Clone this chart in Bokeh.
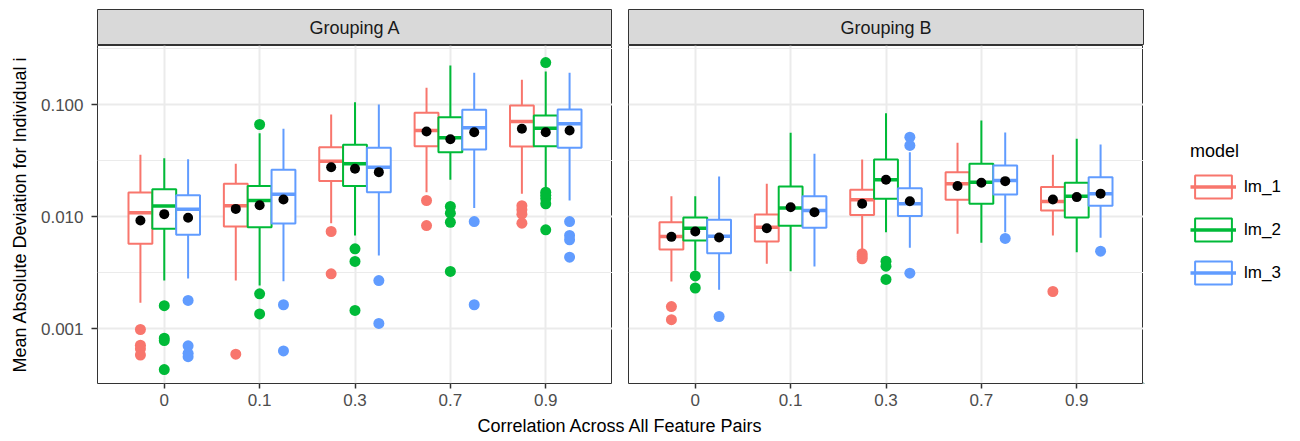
from bokeh.plotting import figure
from bokeh.layouts import column, row
from bokeh.models import (ColumnDataSource, FactorRange, Range1d, FixedTicker,
                          PrintfTickFormatter, Legend, LegendItem)
from bokeh.transform import dodge
from bokeh.core.properties import value
from bokeh.embed import file_html
from bokeh.resources import INLINE

# ---------------- data ----------------
corr_levels = ["0", "0.1", "0.3", "0.7", "0.9"]
models = ["lm_1", "lm_2", "lm_3"]
model_colors = ["#F8766D", "#00BA38", "#619CFF"]
groupings = ["Grouping A", "Grouping B"]
y_ticks = [0.001, 0.01, 0.1]
y_minor_ticks = [0.000316, 0.00316, 0.0316, 0.316]

# rows = correlation level, columns = lm_1, lm_2, lm_3
A_lower = [[0.00170, 0.00268, 0.00279], [0.00268, 0.00242, 0.00264], [0.00871, 0.00677, 0.00449],
           [0.0165, 0.0213, 0.0119], [0.0160, 0.0183, 0.0139]]
A_q1 = [[0.00570, 0.00776, 0.00687], [0.00814, 0.00803, 0.00866], [0.0208, 0.0187, 0.0165],
        [0.0425, 0.0375, 0.0397], [0.0422, 0.0425, 0.0411]]
A_median = [[0.0108, 0.0124, 0.0116], [0.0125, 0.0139, 0.0158], [0.0312, 0.0296, 0.0275],
            [0.0586, 0.0505, 0.0619], [0.0705, 0.0614, 0.0673]]
A_q3 = [[0.0164, 0.0175, 0.0155], [0.0196, 0.0187, 0.0261], [0.0416, 0.0437, 0.0411],
        [0.0843, 0.0770, 0.0897], [0.0980, 0.0798, 0.0902]]
A_upper = [[0.0356, 0.0332, 0.0325], [0.0296, 0.0555, 0.0607], [0.0814, 0.105, 0.0998],
           [0.141, 0.223, 0.192], [0.166, 0.197, 0.192]]
A_mean = [[0.00921, 0.0105, 0.00974], [0.0117, 0.0126, 0.0142], [0.0275, 0.0267, 0.0249],
          [0.0574, 0.0490, 0.0566], [0.0607, 0.0566, 0.0586]]
A_outliers = [
    [[0.00098, 0.00071, 0.00066, 0.00058], [0.00160, 0.00082, 0.00078, 0.00043], [0.00178, 0.00070, 0.00060, 0.00056]],
    [[0.00059], [0.0663, 0.00204, 0.00135], [0.00163, 0.00063]],
    [[0.00735, 0.00308], [0.00515, 0.00397, 0.00145], [0.00268, 0.00111]],
    [[0.0139, 0.00831], [0.0123, 0.0107, 0.00889, 0.00323], [0.00902, 0.00163]],
    [[0.0125, 0.0115, 0.0105, 0.00871], [0.237, 0.0165, 0.0155, 0.0145, 0.0130, 0.0076], [0.00902, 0.00677, 0.0062, 0.00433]],
]

B_lower = [[0.00263, 0.00330, 0.00222], [0.00378, 0.00325, 0.00358], [0.00504, 0.00725, 0.00526],
           [0.00701, 0.00582, 0.00725], [0.00677, 0.00480, 0.00645]]
B_q1 = [[0.00508, 0.00611, 0.00470], [0.00598, 0.00826, 0.00793], [0.0103, 0.0144, 0.0101],
        [0.0141, 0.0130, 0.0157], [0.0113, 0.00980, 0.0125]]
B_median = [[0.00663, 0.00786, 0.00667], [0.00803, 0.0119, 0.0113], [0.0141, 0.0213, 0.0130],
            [0.0196, 0.0202, 0.0210], [0.0136, 0.0152, 0.0160]]
B_q3 = [[0.00889, 0.00980, 0.00934], [0.0104, 0.0185, 0.0152], [0.0173, 0.0323, 0.0179],
        [0.0249, 0.0296, 0.0285], [0.0183, 0.0200, 0.0224]]
B_upper = [[0.0152, 0.0152, 0.0228], [0.0196, 0.0559, 0.0363], [0.0323, 0.0836, 0.0375],
           [0.0455, 0.0720, 0.0562], [0.0356, 0.0494, 0.0440]]
B_mean = [[0.00658, 0.00735, 0.00650], [0.00786, 0.0121, 0.0109], [0.0130, 0.0213, 0.0137],
          [0.0187, 0.0200, 0.0207], [0.0142, 0.0149, 0.0160]]
B_outliers = [
    [[0.00157, 0.00120], [0.00295, 0.00230], [0.00128]],
    [[], [], []],
    [[0.00465, 0.00440, 0.00419], [0.00399, 0.00360, 0.00274], [0.0511, 0.0431, 0.00312]],
    [[], [], [0.00637]],
    [[0.00214], [], [0.00490]],
]

# ---------------- style ----------------
FONT = "Liberation Sans"
TXT = "18px"
TICK_TXT = "17px"
LEG_TXT = "17px"
Y_LOW, Y_HIGH = 10 ** -3.491, 10 ** -0.473
DODGE = [-0.25, 0.0, 0.25]
BOX_W = 0.25
FRAME_W = 515
BOTTOM = 32
PANEL_H = 338 + BOTTOM


def bare(width, height, left=0, right=0, top=0, bottom=0):
    f = figure(width=width, height=height, x_range=Range1d(0, 1), y_range=Range1d(0, 1),
               x_axis_location=None, y_axis_location=None,
               output_backend="svg", toolbar_location=None,
               min_border_left=left, min_border_right=right, min_border_top=top, min_border_bottom=bottom)
    f.grid.visible = False
    f.outline_line_color = None
    return f


def strip(label, width, left, right):
    s = bare(width, 45, left, right, 9, 0)
    s.background_fill_color = "#D9D9D9"
    s.outline_line_color = "#333333"
    s.outline_line_width = 1
    s.text(x=[0.5], y=[0.5], text=[label], text_align="center", text_baseline="middle",
           text_font=value(FONT), text_font_size=TXT, text_color="#1A1A1A")
    return s


def panel(stats, width, left, show_y):
    lower, q1, med, q3, upper, mean, outl = stats
    p = figure(width=width, height=PANEL_H,
               x_range=FactorRange(factors=corr_levels, range_padding=0.2, range_padding_units="absolute"),
               y_range=Range1d(Y_LOW, Y_HIGH), y_axis_type="log",
               y_axis_location="left" if show_y else None,
               output_backend="svg", toolbar_location=None,
               min_border_left=left, min_border_right=0, min_border_top=0, min_border_bottom=BOTTOM)
    p.background_fill_color = "white"
    p.outline_line_color = "#333333"
    p.outline_line_width = 1

    p.ygrid.ticker = FixedTicker(ticks=y_ticks, minor_ticks=y_minor_ticks)
    p.ygrid.grid_line_color = "#EBEBEB"
    p.ygrid.grid_line_width = 2
    p.ygrid.minor_grid_line_color = "#EBEBEB"
    p.ygrid.minor_grid_line_width = 1
    p.xgrid.grid_line_color = "#EBEBEB"
    p.xgrid.grid_line_width = 2

    xa = p.xaxis[0]
    xa.axis_line_color = None
    xa.major_tick_line_color = "#333333"
    xa.major_tick_line_width = 1.5
    xa.major_tick_out = 5
    xa.major_tick_in = 0
    xa.major_label_standoff = 5
    xa.major_label_text_font = FONT
    xa.major_label_text_font_size = TICK_TXT
    xa.major_label_text_color = "#4D4D4D"

    if show_y:
        ya = p.yaxis[0]
        ya.ticker = FixedTicker(ticks=y_ticks, minor_ticks=y_minor_ticks)
        ya.formatter = PrintfTickFormatter(format="%.3f")
        ya.axis_line_color = None
        ya.major_tick_line_color = "#333333"
        ya.major_tick_line_width = 1.5
        ya.major_tick_out = 6
        ya.major_tick_in = 0
        ya.minor_tick_line_color = None
        ya.major_label_standoff = 8
        ya.major_label_text_font = FONT
        ya.major_label_text_font_size = TICK_TXT
        ya.major_label_text_color = "#4D4D4D"
        ya.axis_label = "Mean Absolute Deviation for Individual i"
        ya.axis_label_text_font = FONT
        ya.axis_label_text_font_size = TXT
        ya.axis_label_text_font_style = "normal"
        ya.axis_label_text_color = "black"
        ya.axis_label_standoff = 8

    for j, (m, col, off) in enumerate(zip(models, model_colors, DODGE)):
        src = ColumnDataSource(dict(
            corr=corr_levels,
            lower=[r[j] for r in lower], q1=[r[j] for r in q1], median=[r[j] for r in med],
            q3=[r[j] for r in q3], upper=[r[j] for r in upper], mean=[r[j] for r in mean],
        ))
        xc = dodge("corr", off, range=p.x_range)
        p.segment(x0=xc, y0="q3", x1=xc, y1="upper", line_color=col, line_width=2, source=src)
        p.segment(x0=xc, y0="lower", x1=xc, y1="q1", line_color=col, line_width=2, source=src)
        p.vbar(x=dodge("corr", off, range=p.x_range), width=BOX_W, top="q3", bottom="q1",
               fill_color="white", line_color=col, line_width=2, source=src)
        p.segment(x0=dodge("corr", off - BOX_W / 2, range=p.x_range), y0="median",
                  x1=dodge("corr", off + BOX_W / 2, range=p.x_range), y1="median",
                  line_color=col, line_width=3.5, source=src)
        oc, ov = [], []
        for i, c in enumerate(corr_levels):
            for v in outl[i][j]:
                oc.append(c)
                ov.append(v)
        osrc = ColumnDataSource(dict(corr=oc, value=ov))
        p.scatter(x=dodge("corr", off, range=p.x_range), y="value", size=11,
                  fill_color=col, line_color=None, source=osrc)

    for j, off in enumerate(DODGE):
        msrc = ColumnDataSource(dict(corr=corr_levels, mean=[r[j] for r in mean]))
        p.scatter(x=dodge("corr", off, range=p.x_range), y="mean", size=10,
                  fill_color="black", line_color=None, source=msrc)
    return p


left_w = 97 + FRAME_W
mid_w = 16 + FRAME_W
leg_w = 1300 - left_w - mid_w

sA = strip(groupings[0], left_w, 97, 0)
sB = strip(groupings[1], mid_w + leg_w, 16, leg_w)

pA = panel((A_lower, A_q1, A_median, A_q3, A_upper, A_mean, A_outliers), left_w, 97, True)
pB = panel((B_lower, B_q1, B_median, B_q3, B_upper, B_mean, B_outliers), mid_w, 16, False)

# legend figure: key glyphs sit outside its visible range so only the legend shows them
lf = bare(leg_w, PANEL_H, 0, 0, 0, BOTTOM)
items = []
for m, col in zip(models, model_colors):
    ksrc = ColumnDataSource(dict(x=[-5.0], lo=[-6.0], hi=[-5.5]))
    kb = lf.vbar(x="x", width=0.1, top="hi", bottom="lo", fill_color="white",
                 line_color=col, line_width=2, source=ksrc)
    km = lf.segment(x0="x", y0="lo", x1="x", y1="lo", line_color=col, line_width=3.5, source=ksrc)
    items.append(LegendItem(label=m, renderers=[kb, km]))

legend = Legend(items=items, title="model", location="center_left", margin=47, padding=10,
                glyph_width=46, glyph_height=29, spacing=14, label_standoff=8,
                title_standoff=10,
                label_text_font=FONT, label_text_font_size=LEG_TXT, label_text_color="black",
                title_text_font=FONT, title_text_font_size=TXT, title_text_font_style="normal",
                title_text_color="black",
                border_line_color=None, background_fill_alpha=0)
lf.add_layout(legend)

tfig = bare(1300, 441 - 45 - PANEL_H, 97, leg_w, 0, 0)
tfig.text(x=[0.5], y=[1.0], text=["Correlation Across All Feature Pairs"], text_align="center",
          text_baseline="top", text_font=value(FONT), text_font_size=TXT, text_color="black")

layout = column(row(sA, sB), row(pA, pB, lf), tfig)
open("out.html", "w").write(file_html(layout, INLINE))
